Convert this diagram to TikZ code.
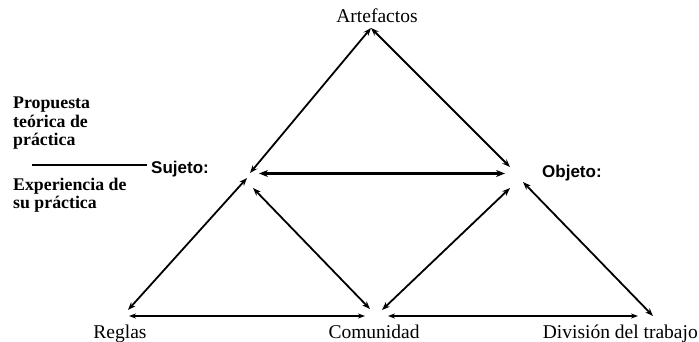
\documentclass[tikz,border=0pt]{standalone}
\usepackage{fontspec}
\setmainfont{Liberation Serif}
\newfontfamily\labsans{Liberation Sans}
\usetikzlibrary{arrows.meta}
\begin{document}
\begin{tikzpicture}[x=1pt,y=-1pt,
  rel/.style={{Stealth[length=8pt,width=6pt]}-{Stealth[length=8pt,width=6pt]}, line width=1.8pt},
  relthick/.style={{Stealth[length=9pt,width=7pt]}-{Stealth[length=9pt,width=7pt]}, line width=2.8pt},
  relthin/.style={{Stealth[length=7pt,width=5pt]}-{Stealth[length=7pt,width=5pt]}, line width=1.2pt},
  lab/.style={inner sep=0pt, anchor=base, font=\fontsize{19.5}{22}\selectfont},
  note/.style={inner sep=0pt, anchor=base west, font=\fontsize{17.8}{19}\selectfont\bfseries},
  pole/.style={inner sep=0pt, anchor=base west, font=\labsans\fontsize{17}{19}\selectfont\bfseries}]
\useasboundingbox (0,0) rectangle (699,341);
% labels
\node[lab] (art) at (377,22) {Artefactos};
\node[lab] (reg) at (120,338) {Reglas};
\node[lab] (com) at (374,338) {Comunidad};
\node[lab, anchor=base east] (div) at (698,338) {División del trabajo};
\node[pole] (suj) at (151,173) {Sujeto:};
\node[pole] (obj) at (542,177) {Objeto:};
\node[note] (p1) at (13,108) {Propuesta};
\node[note] (p2) at (13,127) {teórica de};
\node[note] (p3) at (13,145) {práctica};
\node[note] (e1) at (13,190) {Experiencia de};
\node[note] (e2) at (13,208) {su práctica};
% connector end points
\coordinate (apex) at (371,28);
\coordinate (sA) at (250,173);
\coordinate (oA) at (510,167);
\coordinate (sH) at (259,173.5);
\coordinate (oH) at (505,173.5);
\coordinate (sR) at (247,178);
\coordinate (rS) at (128,310);
\coordinate (sC) at (253,188);
\coordinate (cS) at (370,309);
\coordinate (oC) at (510,188);
\coordinate (cO) at (382,310);
\coordinate (oD) at (523,182);
\coordinate (dO) at (653,316);
\coordinate (rC) at (129,316);
\coordinate (cR) at (365,316);
\coordinate (cD) at (388,316);
\coordinate (dC) at (638,316);
\coordinate (l1) at (32,165);
\coordinate (l2) at (147,165);
% connectors
\draw[rel] (apex) -- (sA);
\draw[rel] (apex) -- (oA);
\draw[relthick] (sH) -- (oH);
\draw[rel] (sR) -- (rS);
\draw[rel] (sC) -- (cS);
\draw[rel] (oC) -- (cO);
\draw[rel] (oD) -- (dO);
\draw[relthin] (rC) -- (cR);
\draw[relthin] (cD) -- (dC);
\draw[line width=1.4pt] (l1) -- (l2);
\end{tikzpicture}
\end{document}
